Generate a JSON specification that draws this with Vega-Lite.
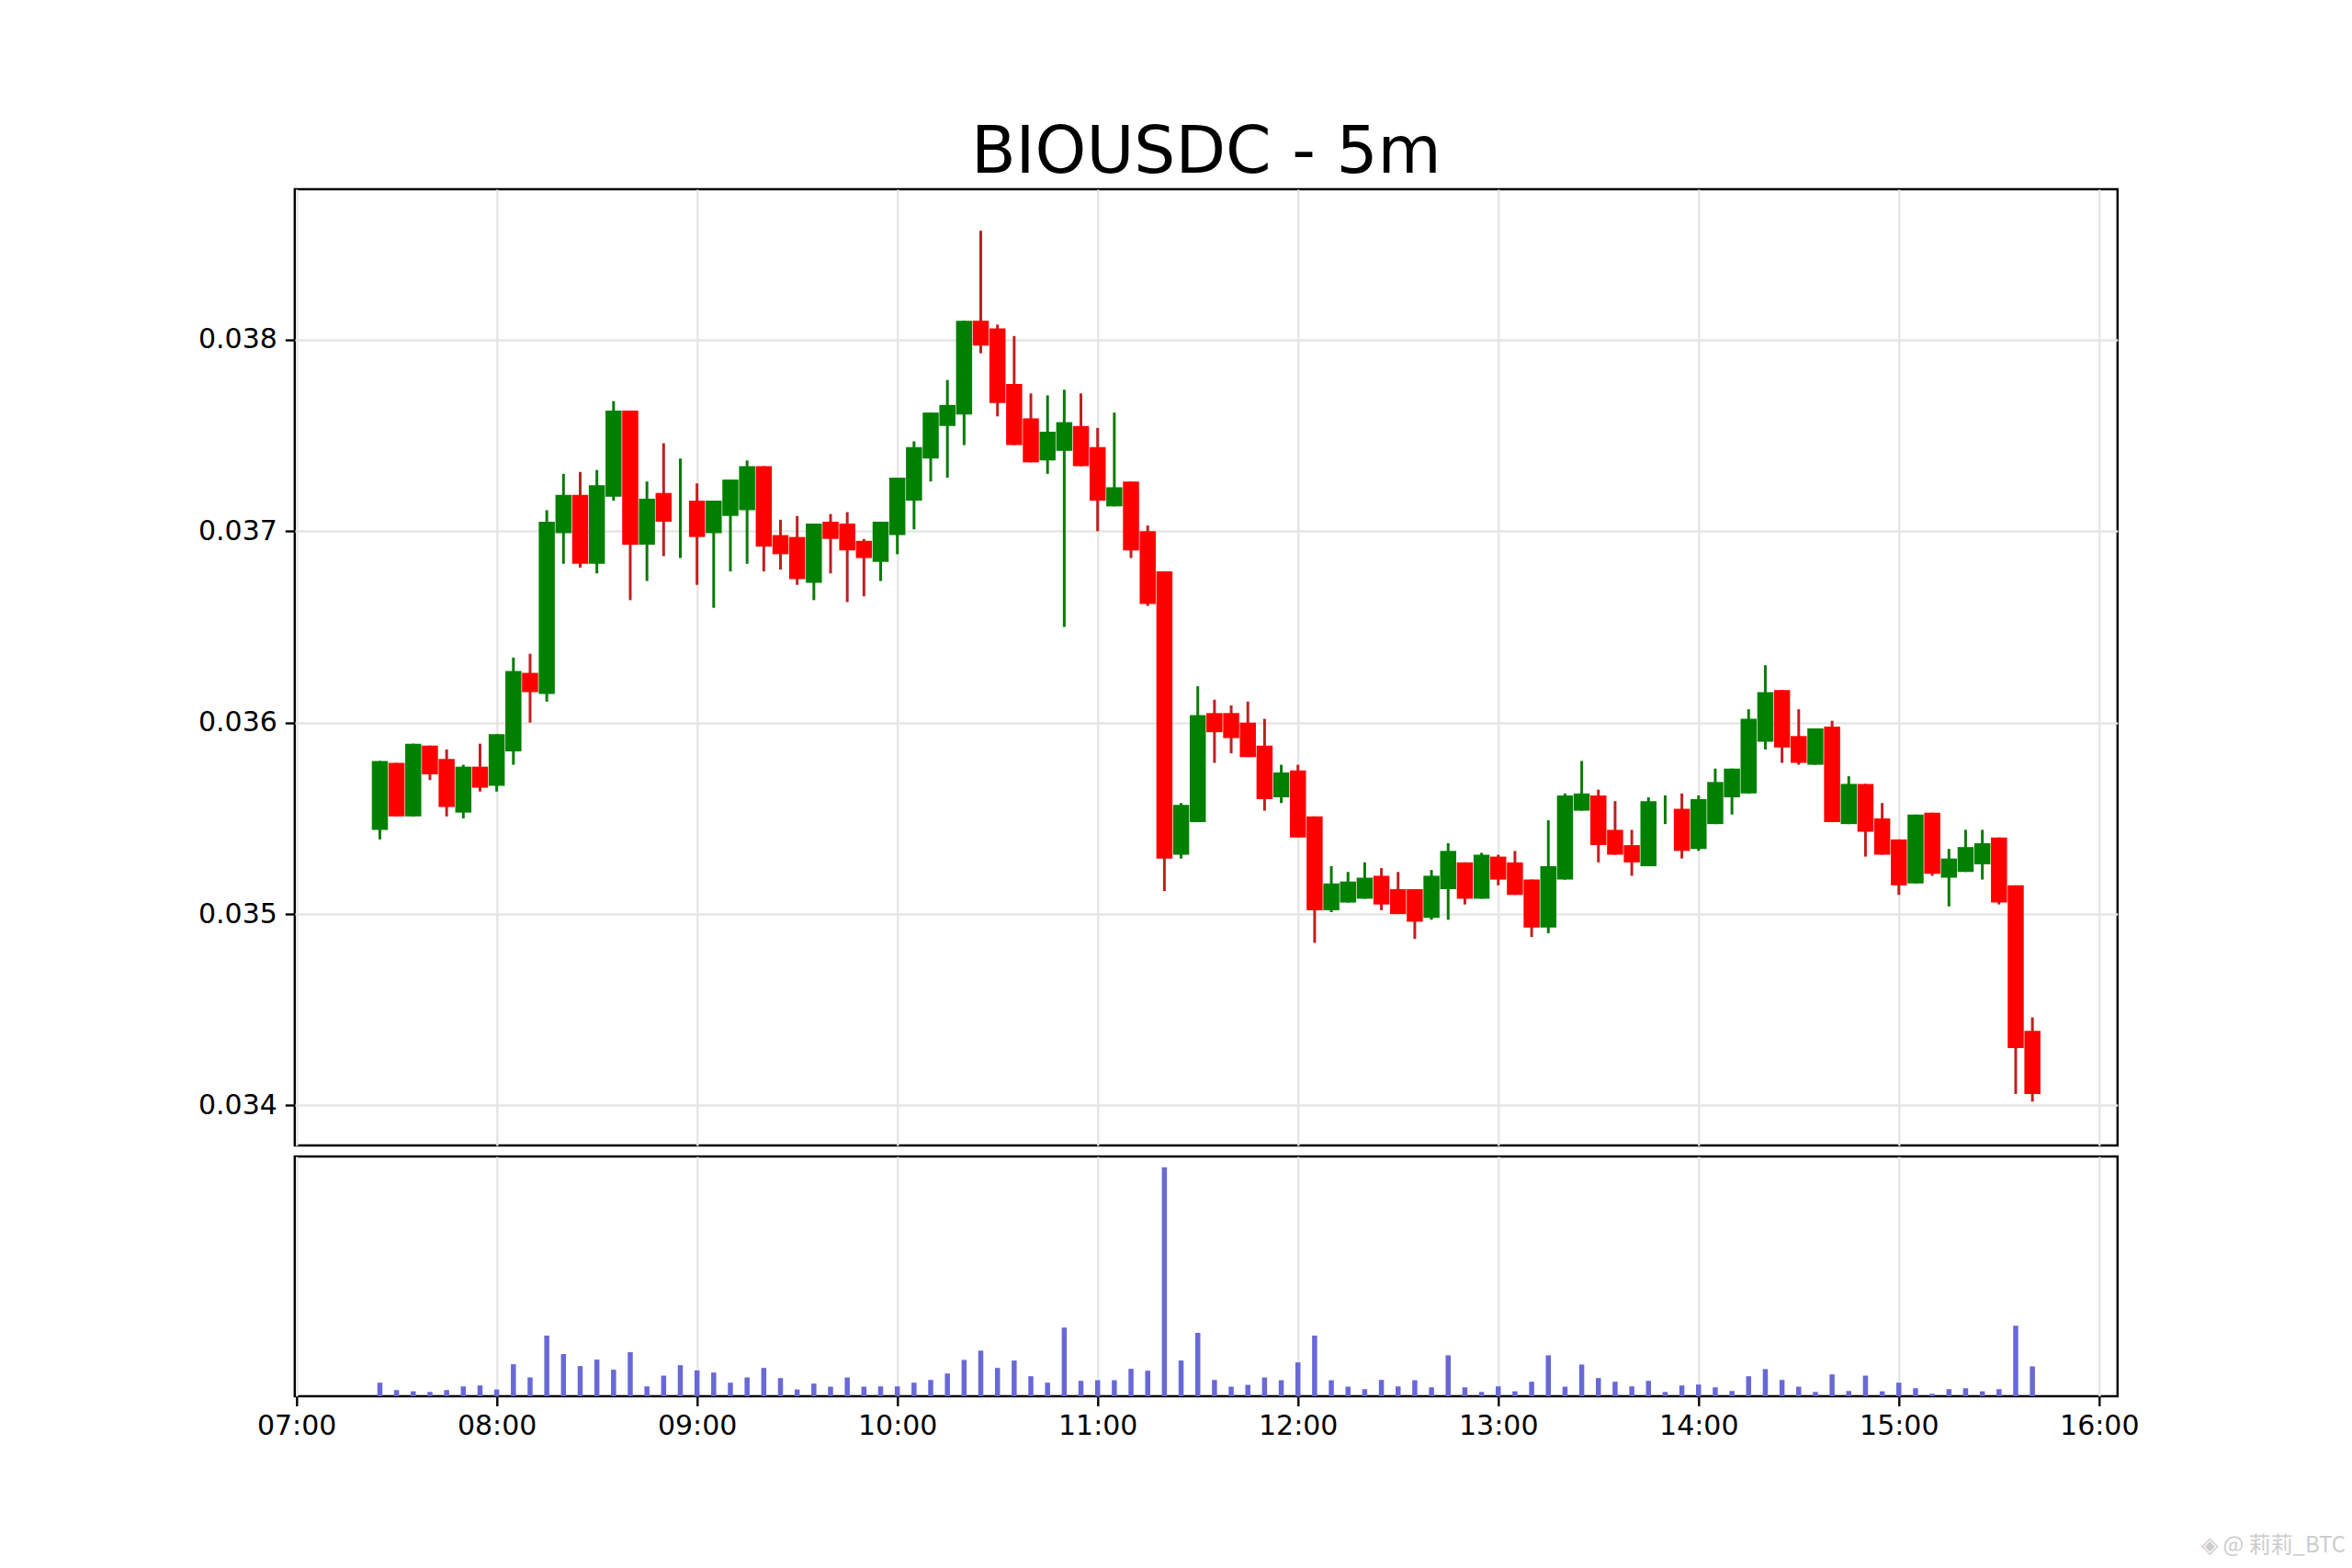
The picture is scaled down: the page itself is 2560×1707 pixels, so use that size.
{
  "$schema": "https://vega.github.io/schema/vega-lite/v6.json",
  "background": "white",
  "padding": {"left": 213.8, "top": 129, "right": 0, "bottom": 0},
  "spacing": 8,
  "config": {
    "font": "DejaVu Sans",
    "view": {"stroke": "black", "strokeWidth": 2.4},
    "axis": {
      "labelFont": "DejaVu Sans",
      "labelFontSize": 30,
      "labelColor": "black",
      "tickColor": "black",
      "tickWidth": 2.4,
      "tickSize": 10.5,
      "labelPadding": 10.5,
      "grid": true,
      "gridColor": "#e6e6e6",
      "gridWidth": 2.4,
      "domain": false
    }
  },
  "data": {
    "values": [
      {"t":"2025-01-01T07:25:00","open":0.03544,"high":0.0358,"low":0.03539,"close":0.0358,"volume":44},
      {"t":"2025-01-01T07:30:00","open":0.03579,"high":0.03579,"low":0.03551,"close":0.03551,"volume":20},
      {"t":"2025-01-01T07:35:00","open":0.03551,"high":0.03589,"low":0.03551,"close":0.03589,"volume":16},
      {"t":"2025-01-01T07:40:00","open":0.03588,"high":0.03588,"low":0.0357,"close":0.03573,"volume":14},
      {"t":"2025-01-01T07:45:00","open":0.03581,"high":0.03586,"low":0.03551,"close":0.03556,"volume":20},
      {"t":"2025-01-01T07:50:00","open":0.03553,"high":0.03578,"low":0.0355,"close":0.03577,"volume":32},
      {"t":"2025-01-01T07:55:00","open":0.03577,"high":0.03589,"low":0.03564,"close":0.03566,"volume":35},
      {"t":"2025-01-01T08:00:00","open":0.03567,"high":0.03594,"low":0.03564,"close":0.03594,"volume":22},
      {"t":"2025-01-01T08:05:00","open":0.03585,"high":0.03634,"low":0.03578,"close":0.03627,"volume":104},
      {"t":"2025-01-01T08:10:00","open":0.03626,"high":0.03636,"low":0.036,"close":0.03616,"volume":61},
      {"t":"2025-01-01T08:15:00","open":0.03615,"high":0.03711,"low":0.03611,"close":0.03705,"volume":197},
      {"t":"2025-01-01T08:20:00","open":0.03699,"high":0.0373,"low":0.03683,"close":0.03719,"volume":137},
      {"t":"2025-01-01T08:25:00","open":0.03719,"high":0.03731,"low":0.03681,"close":0.03683,"volume":98},
      {"t":"2025-01-01T08:30:00","open":0.03683,"high":0.03732,"low":0.03678,"close":0.03724,"volume":119},
      {"t":"2025-01-01T08:35:00","open":0.03718,"high":0.03768,"low":0.03716,"close":0.03763,"volume":86},
      {"t":"2025-01-01T08:40:00","open":0.03763,"high":0.03763,"low":0.03664,"close":0.03693,"volume":143},
      {"t":"2025-01-01T08:45:00","open":0.03693,"high":0.03726,"low":0.03674,"close":0.03717,"volume":32},
      {"t":"2025-01-01T08:50:00","open":0.0372,"high":0.03746,"low":0.03687,"close":0.03705,"volume":67},
      {"t":"2025-01-01T08:55:00","open":0.03712,"high":0.03738,"low":0.03686,"close":0.03712,"volume":101},
      {"t":"2025-01-01T09:00:00","open":0.03716,"high":0.03725,"low":0.03672,"close":0.03697,"volume":84},
      {"t":"2025-01-01T09:05:00","open":0.03699,"high":0.03716,"low":0.0366,"close":0.03716,"volume":77},
      {"t":"2025-01-01T09:10:00","open":0.03708,"high":0.03727,"low":0.03679,"close":0.03727,"volume":44},
      {"t":"2025-01-01T09:15:00","open":0.03711,"high":0.03737,"low":0.03683,"close":0.03734,"volume":61},
      {"t":"2025-01-01T09:20:00","open":0.03734,"high":0.03734,"low":0.03679,"close":0.03692,"volume":92},
      {"t":"2025-01-01T09:25:00","open":0.03698,"high":0.03706,"low":0.0368,"close":0.03688,"volume":59},
      {"t":"2025-01-01T09:30:00","open":0.03697,"high":0.03708,"low":0.03672,"close":0.03675,"volume":22},
      {"t":"2025-01-01T09:35:00","open":0.03673,"high":0.03704,"low":0.03664,"close":0.03704,"volume":41},
      {"t":"2025-01-01T09:40:00","open":0.03705,"high":0.03709,"low":0.03678,"close":0.03696,"volume":31},
      {"t":"2025-01-01T09:45:00","open":0.03704,"high":0.0371,"low":0.03663,"close":0.0369,"volume":61},
      {"t":"2025-01-01T09:50:00","open":0.03695,"high":0.03696,"low":0.03666,"close":0.03686,"volume":31},
      {"t":"2025-01-01T09:55:00","open":0.03684,"high":0.03705,"low":0.03674,"close":0.03705,"volume":32},
      {"t":"2025-01-01T10:00:00","open":0.03698,"high":0.03728,"low":0.03688,"close":0.03728,"volume":32},
      {"t":"2025-01-01T10:05:00","open":0.03716,"high":0.03747,"low":0.03701,"close":0.03744,"volume":44},
      {"t":"2025-01-01T10:10:00","open":0.03738,"high":0.03762,"low":0.03726,"close":0.03762,"volume":53},
      {"t":"2025-01-01T10:15:00","open":0.03755,"high":0.03779,"low":0.03728,"close":0.03766,"volume":74},
      {"t":"2025-01-01T10:20:00","open":0.03761,"high":0.0381,"low":0.03745,"close":0.0381,"volume":118},
      {"t":"2025-01-01T10:25:00","open":0.0381,"high":0.03857,"low":0.03793,"close":0.03797,"volume":148},
      {"t":"2025-01-01T10:30:00","open":0.03806,"high":0.03808,"low":0.0376,"close":0.03767,"volume":92},
      {"t":"2025-01-01T10:35:00","open":0.03777,"high":0.03802,"low":0.03745,"close":0.03745,"volume":116},
      {"t":"2025-01-01T10:40:00","open":0.03759,"high":0.03772,"low":0.03736,"close":0.03736,"volume":65},
      {"t":"2025-01-01T10:45:00","open":0.03737,"high":0.03771,"low":0.0373,"close":0.03752,"volume":44},
      {"t":"2025-01-01T10:50:00","open":0.03742,"high":0.03774,"low":0.0365,"close":0.03757,"volume":223},
      {"t":"2025-01-01T10:55:00","open":0.03755,"high":0.03772,"low":0.03734,"close":0.03734,"volume":50},
      {"t":"2025-01-01T11:00:00","open":0.03744,"high":0.03754,"low":0.037,"close":0.03716,"volume":52},
      {"t":"2025-01-01T11:05:00","open":0.03713,"high":0.03762,"low":0.03713,"close":0.03723,"volume":52},
      {"t":"2025-01-01T11:10:00","open":0.03726,"high":0.03726,"low":0.03686,"close":0.0369,"volume":89},
      {"t":"2025-01-01T11:15:00","open":0.037,"high":0.03703,"low":0.03661,"close":0.03662,"volume":83},
      {"t":"2025-01-01T11:20:00","open":0.03679,"high":0.03679,"low":0.03512,"close":0.03529,"volume":744},
      {"t":"2025-01-01T11:25:00","open":0.03531,"high":0.03558,"low":0.03529,"close":0.03557,"volume":116},
      {"t":"2025-01-01T11:30:00","open":0.03548,"high":0.03619,"low":0.03548,"close":0.03604,"volume":206},
      {"t":"2025-01-01T11:35:00","open":0.03605,"high":0.03612,"low":0.03579,"close":0.03595,"volume":53},
      {"t":"2025-01-01T11:40:00","open":0.03605,"high":0.03609,"low":0.03584,"close":0.03592,"volume":31},
      {"t":"2025-01-01T11:45:00","open":0.036,"high":0.03611,"low":0.03582,"close":0.03582,"volume":37},
      {"t":"2025-01-01T11:50:00","open":0.03588,"high":0.03602,"low":0.03554,"close":0.0356,"volume":61},
      {"t":"2025-01-01T11:55:00","open":0.03561,"high":0.03578,"low":0.03558,"close":0.03574,"volume":52},
      {"t":"2025-01-01T12:00:00","open":0.03575,"high":0.03578,"low":0.0354,"close":0.0354,"volume":110},
      {"t":"2025-01-01T12:05:00","open":0.03551,"high":0.03551,"low":0.03485,"close":0.03502,"volume":197},
      {"t":"2025-01-01T12:10:00","open":0.03502,"high":0.03525,"low":0.03501,"close":0.03516,"volume":52},
      {"t":"2025-01-01T12:15:00","open":0.03506,"high":0.03522,"low":0.03506,"close":0.03517,"volume":31},
      {"t":"2025-01-01T12:20:00","open":0.03508,"high":0.03527,"low":0.03508,"close":0.03519,"volume":23},
      {"t":"2025-01-01T12:25:00","open":0.0352,"high":0.03524,"low":0.03502,"close":0.03505,"volume":53},
      {"t":"2025-01-01T12:30:00","open":0.03513,"high":0.03522,"low":0.035,"close":0.035,"volume":32},
      {"t":"2025-01-01T12:35:00","open":0.03513,"high":0.03513,"low":0.03487,"close":0.03496,"volume":52},
      {"t":"2025-01-01T12:40:00","open":0.03498,"high":0.03523,"low":0.03497,"close":0.0352,"volume":29},
      {"t":"2025-01-01T12:45:00","open":0.03513,"high":0.03537,"low":0.03497,"close":0.03533,"volume":133},
      {"t":"2025-01-01T12:50:00","open":0.03527,"high":0.03527,"low":0.03505,"close":0.03508,"volume":29},
      {"t":"2025-01-01T12:55:00","open":0.03508,"high":0.03532,"low":0.03508,"close":0.03531,"volume":14},
      {"t":"2025-01-01T13:00:00","open":0.0353,"high":0.03531,"low":0.03515,"close":0.03518,"volume":32},
      {"t":"2025-01-01T13:05:00","open":0.03527,"high":0.03533,"low":0.0351,"close":0.0351,"volume":16},
      {"t":"2025-01-01T13:10:00","open":0.03518,"high":0.03518,"low":0.03488,"close":0.03493,"volume":47},
      {"t":"2025-01-01T13:15:00","open":0.03493,"high":0.03549,"low":0.0349,"close":0.03525,"volume":133},
      {"t":"2025-01-01T13:20:00","open":0.03518,"high":0.03563,"low":0.03518,"close":0.03562,"volume":31},
      {"t":"2025-01-01T13:25:00","open":0.03554,"high":0.0358,"low":0.03554,"close":0.03563,"volume":103},
      {"t":"2025-01-01T13:30:00","open":0.03562,"high":0.03565,"low":0.03527,"close":0.03536,"volume":59},
      {"t":"2025-01-01T13:35:00","open":0.03544,"high":0.03559,"low":0.03531,"close":0.03531,"volume":47},
      {"t":"2025-01-01T13:40:00","open":0.03536,"high":0.03544,"low":0.0352,"close":0.03527,"volume":32},
      {"t":"2025-01-01T13:45:00","open":0.03525,"high":0.03561,"low":0.03525,"close":0.03559,"volume":50},
      {"t":"2025-01-01T13:50:00","open":0.03555,"high":0.03562,"low":0.03547,"close":0.03555,"volume":14},
      {"t":"2025-01-01T13:55:00","open":0.03555,"high":0.03563,"low":0.03529,"close":0.03533,"volume":35},
      {"t":"2025-01-01T14:00:00","open":0.03534,"high":0.03562,"low":0.03533,"close":0.0356,"volume":38},
      {"t":"2025-01-01T14:05:00","open":0.03547,"high":0.03576,"low":0.03547,"close":0.03569,"volume":29},
      {"t":"2025-01-01T14:10:00","open":0.03561,"high":0.03576,"low":0.03552,"close":0.03576,"volume":17},
      {"t":"2025-01-01T14:15:00","open":0.03563,"high":0.03607,"low":0.03563,"close":0.03602,"volume":65},
      {"t":"2025-01-01T14:20:00","open":0.0359,"high":0.0363,"low":0.03586,"close":0.03616,"volume":88},
      {"t":"2025-01-01T14:25:00","open":0.03617,"high":0.03617,"low":0.03579,"close":0.03587,"volume":53},
      {"t":"2025-01-01T14:30:00","open":0.03593,"high":0.03607,"low":0.03578,"close":0.03579,"volume":31},
      {"t":"2025-01-01T14:35:00","open":0.03578,"high":0.03597,"low":0.03578,"close":0.03597,"volume":14},
      {"t":"2025-01-01T14:40:00","open":0.03598,"high":0.03601,"low":0.03548,"close":0.03548,"volume":71},
      {"t":"2025-01-01T14:45:00","open":0.03547,"high":0.03572,"low":0.03547,"close":0.03568,"volume":17},
      {"t":"2025-01-01T14:50:00","open":0.03568,"high":0.03568,"low":0.0353,"close":0.03543,"volume":67},
      {"t":"2025-01-01T14:55:00","open":0.0355,"high":0.03558,"low":0.03531,"close":0.03531,"volume":16},
      {"t":"2025-01-01T15:00:00","open":0.03539,"high":0.03539,"low":0.0351,"close":0.03515,"volume":44},
      {"t":"2025-01-01T15:05:00","open":0.03516,"high":0.03552,"low":0.03516,"close":0.03552,"volume":26},
      {"t":"2025-01-01T15:10:00","open":0.03553,"high":0.03553,"low":0.0352,"close":0.03521,"volume":8},
      {"t":"2025-01-01T15:15:00","open":0.03519,"high":0.03534,"low":0.03504,"close":0.03529,"volume":23},
      {"t":"2025-01-01T15:20:00","open":0.03522,"high":0.03544,"low":0.03522,"close":0.03535,"volume":26},
      {"t":"2025-01-01T15:25:00","open":0.03526,"high":0.03544,"low":0.03518,"close":0.03537,"volume":16},
      {"t":"2025-01-01T15:30:00","open":0.0354,"high":0.0354,"low":0.03505,"close":0.03506,"volume":23},
      {"t":"2025-01-01T15:35:00","open":0.03515,"high":0.03515,"low":0.03406,"close":0.0343,"volume":229},
      {"t":"2025-01-01T15:40:00","open":0.03439,"high":0.03446,"low":0.03402,"close":0.03406,"volume":97}
    ]
  },
  "vconcat": [
    {
      "width": 1984,
      "height": 1041,
      "title": {
        "text": "BIOUSDC - 5m",
        "fontSize": 71,
        "font": "DejaVu Sans",
        "fontWeight": "normal",
        "color": "black",
        "anchor": "middle",
        "offset": 3
      },
      "layer": [
        {
          "mark": {"type": "rule", "strokeWidth": 3},
          "encoding": {
            "x": {
              "field": "t",
              "type": "temporal",
              "title": null,
              "scale": {"domain": ["2025-01-01T06:59:30", "2025-01-01T16:05:30"], "padding": 0},
              "axis": {"labels": false, "ticks": false, "values": ["2025-01-01T07:00:00", "2025-01-01T08:00:00", "2025-01-01T09:00:00", "2025-01-01T10:00:00", "2025-01-01T11:00:00", "2025-01-01T12:00:00", "2025-01-01T13:00:00", "2025-01-01T14:00:00", "2025-01-01T15:00:00", "2025-01-01T16:00:00"]}
            },
            "y": {
              "field": "low",
              "type": "quantitative",
              "title": null,
              "scale": {"domain": [0.033791, 0.038787], "nice": false, "zero": false},
              "axis": {"values": [0.034, 0.035, 0.036, 0.037, 0.038], "format": ".3f", "labelPadding": 9}
            },
            "y2": {"field": "high"},
            "color": {
              "condition": {"test": "datum.close >= datum.open", "value": "#0a7a0a"},
              "value": "#c02020"
            }
          }
        },
        {
          "mark": {"type": "bar", "size": 17.5, "orient": "vertical"},
          "encoding": {
            "x": {"field": "t", "type": "temporal"},
            "y": {"field": "open", "type": "quantitative"},
            "y2": {"field": "close"},
            "color": {
              "condition": {"test": "datum.close >= datum.open", "value": "#008000"},
              "value": "#ff0000"
            }
          }
        }
      ]
    },
    {
      "width": 1984,
      "height": 261,
      "title": {
        "text": "◈ @ 莉莉_BTC",
        "orient": "bottom",
        "anchor": "end",
        "font": "Noto Sans CJK SC",
        "fontSize": 24,
        "fontWeight": "normal",
        "color": "#cccccc",
        "offset": 103,
        "dx": 225
      },
      "mark": {"type": "bar", "size": 5.5, "color": "#6868d8"},
      "encoding": {
        "x": {
          "field": "t",
          "type": "temporal",
          "title": null,
          "scale": {"domain": ["2025-01-01T06:59:30", "2025-01-01T16:05:30"], "padding": 0},
          "axis": {"format": "%H:%M", "labelFlush": false, "labelPadding": 7.5, "values": ["2025-01-01T07:00:00", "2025-01-01T08:00:00", "2025-01-01T09:00:00", "2025-01-01T10:00:00", "2025-01-01T11:00:00", "2025-01-01T12:00:00", "2025-01-01T13:00:00", "2025-01-01T14:00:00", "2025-01-01T15:00:00", "2025-01-01T16:00:00"]}
        },
        "y": {
          "field": "volume",
          "type": "quantitative",
          "scale": {"domain": [0, 779], "nice": false},
          "axis": null
        }
      }
    }
  ]
}
